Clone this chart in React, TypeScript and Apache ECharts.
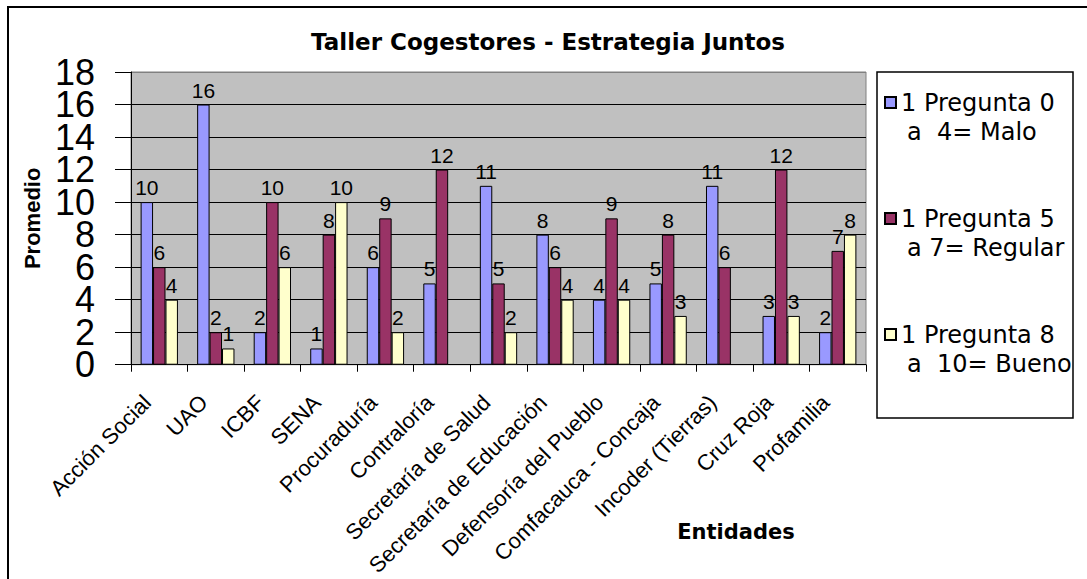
import React, { useEffect, useRef } from 'react';
import * as echarts from 'echarts';

const categories = [
  'Acción Social', 'UAO', 'ICBF', 'SENA', 'Procuraduría', 'Contraloría',
  'Secretaría de Salud', 'Secretaría de Educación', 'Defensoría del Pueblo',
  'Comfacauca - Concaja', 'Incoder (Tierras)', 'Cruz Roja', 'Profamilia',
];
const malo = [10, 16, 2, 1, 6, 5, 11, 8, 4, 5, 11, 3, 2];
const regular = [6, 2, 10, 8, 9, 12, 5, 6, 9, 8, 6, 12, 7];
const bueno = [4, 1, 6, 10, 2, null, 2, 4, 4, 3, null, 3, 8];
const seriesNames = ['1 Pregunta 0 a  4= Malo', '1 Pregunta 5 a 7= Regular', '1 Pregunta 8 a  10= Bueno'];
const legendLines = [
  ['1 Pregunta 0', 'a  4= Malo'],
  ['1 Pregunta 5', 'a 7= Regular'],
  ['1 Pregunta 8', 'a  10= Bueno'],
];
const colors = ['#9999FF', '#993366', '#FFFFCC'];
const yMin = 0;
const yMax = 18;
const yStep = 2;

const ARIAL = '"Liberation Sans", Arial, sans-serif';
const DEJAVU = '"DejaVu Sans", sans-serif';

export default function App() {
  const ref = useRef<HTMLDivElement>(null);
  useEffect(() => {
    if (!ref.current) return;
    const chart = echarts.init(ref.current, null, { renderer: 'svg' });
    const dataSets = [malo, regular, bueno];
    const gridLineCount = (yMax - yMin) / yStep + 1;
    const splitColors = Array.from({ length: gridLineCount }, (_, i) => (i === gridLineCount - 1 ? '#808080' : '#000000'));
    const yLabelStyle = {
      margin: 36, fontFamily: ARIAL, fontSize: 36, lineHeight: 30, color: '#000',
    };
    chart.setOption({
      animation: false,
      backgroundColor: '#ffffff',
      title: {
        text: 'Taller Cogestores - Estrategia Juntos',
        left: 548,
        textAlign: 'center',
        top: 30,
        padding: 0,
        textStyle: { fontFamily: DEJAVU, fontWeight: 'bold', fontSize: 23, color: '#000' },
      },
      grid: {
        left: 131, top: 72, width: 735, height: 300,
        show: true, backgroundColor: '#C0C0C0', borderColor: '#808080', borderWidth: 1,
      },
      legend: {
        orient: 'vertical',
        left: 884,
        top: 88,
        padding: 0,
        itemWidth: 11,
        itemHeight: 40,
        itemGap: 58,
        icon: 'path://M0,0L11,0L11,11L0,11Z M0,40',
        data: seriesNames,
        formatter: (name: string) => {
          const idx = seriesNames.indexOf(name);
          const l = legendLines[idx];
          return '{a|' + l[0] + '}\n{b|' + l[1] + '}';
        },
        textStyle: {
          color: '#000',
          fontFamily: DEJAVU,
          fontSize: 24,
          lineHeight: 29,
          rich: {
            a: { fontFamily: DEJAVU, fontSize: 24, lineHeight: 29, color: '#000' },
            b: { fontFamily: DEJAVU, fontSize: 24, lineHeight: 29, color: '#000', padding: [0, 0, 0, 6] },
          },
        },
      },
      xAxis: {
        type: 'category',
        data: categories,
        boundaryGap: true,
        axisLine: { show: true, lineStyle: { color: '#000', width: 1 } },
        axisTick: { show: true, interval: 0, length: 7, lineStyle: { color: '#000' } },
        axisLabel: {
          interval: 0, rotate: 45, margin: 22,
          padding: [0, 17, 0, 0],
          fontFamily: ARIAL, fontSize: 22, color: '#000',
        },
        splitLine: { show: false },
      },
      yAxis: [
        {
          type: 'value',
          position: 'left',
          min: yMin, max: yMax, interval: yStep,
          name: 'Promedio',
          nameLocation: 'middle',
          nameGap: 88,
          nameRotate: 90,
          nameTextStyle: { fontFamily: ARIAL, fontWeight: 'bold', fontSize: 22, color: '#000' },
          axisLine: { show: true, lineStyle: { color: '#000', width: 1 } },
          axisTick: { show: true, length: 16, lineStyle: { color: '#000' } },
          axisLabel: { ...yLabelStyle, showMinLabel: false, showMaxLabel: false },
          splitLine: { show: true, lineStyle: { color: splitColors, width: 1 } },
        },
        {
          type: 'value',
          position: 'left',
          offset: 0,
          min: yMin, max: yMax, interval: yMax - yMin,
          axisLine: { show: false },
          axisTick: { show: true, length: 16, lineStyle: { color: '#000' } },
          axisLabel: { ...yLabelStyle, showMinLabel: true, showMaxLabel: true },
          splitLine: { show: false },
        },
      ],
      graphic: [
        {
          type: 'rect', silent: true,
          shape: { x: 8, y: 7, width: 1200, height: 700 },
          style: { fill: 'none', stroke: '#000', lineWidth: 2 },
        },
        {
          type: 'rect', silent: true,
          shape: { x: 877, y: 72, width: 196, height: 346 },
          style: { fill: 'none', stroke: '#000', lineWidth: 1.5 },
        },
        {
          type: 'text', silent: true,
          x: 736, y: 532,
          style: {
            text: 'Entidades', fontFamily: DEJAVU, fontWeight: 'bold', fontSize: 21,
            fill: '#000', align: 'center', verticalAlign: 'middle',
          },
        },
      ],
      series: dataSets.map((d, i) => ({
        name: seriesNames[i],
        type: 'bar',
        yAxisIndex: 0,
        data: d,
        barGap: '0%',
        barCategoryGap: '34%',
        itemStyle: { color: colors[i], borderColor: '#000', borderWidth: 1 },
        label: {
          show: true, position: 'top', distance: 4,
          fontFamily: ARIAL, fontSize: 21, color: '#000',
        },
      })),
    });
    return () => chart.dispose();
  }, []);
  return (
    <div
      ref={ref}
      style={{ position: 'absolute', left: 0, top: 0, width: 1087, height: 579 }}
    />
  );
}
